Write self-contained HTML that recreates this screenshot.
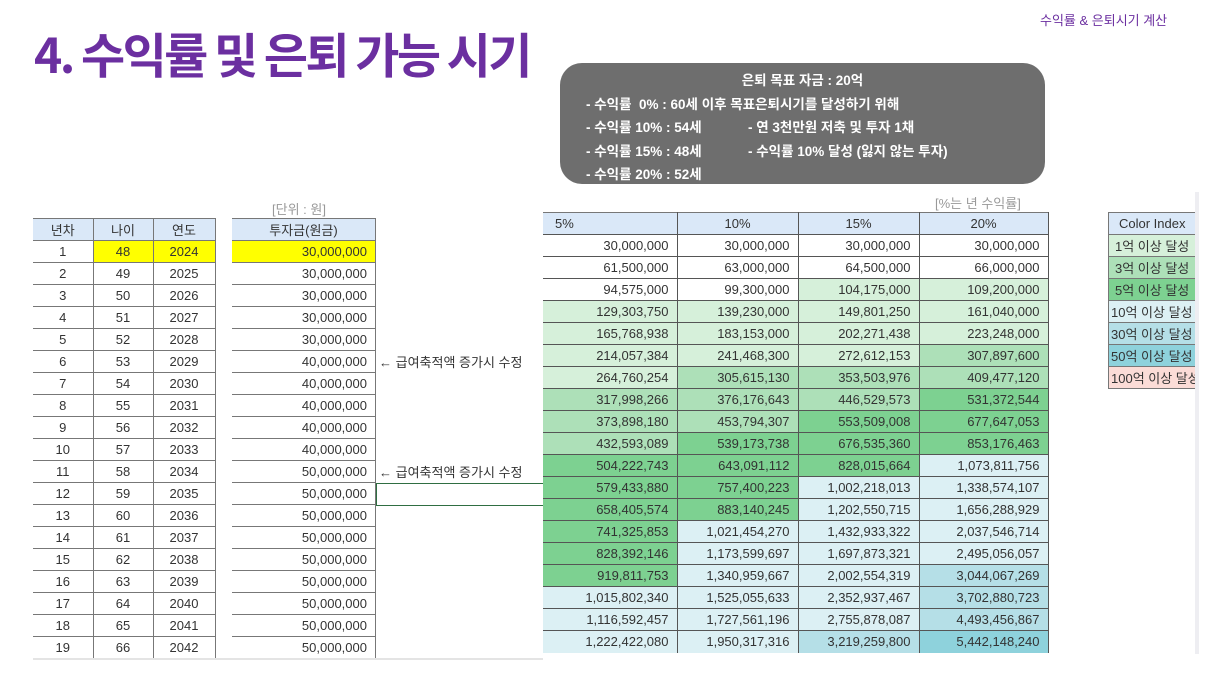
<!DOCTYPE html>
<html><head><meta charset="utf-8"><style>
*{margin:0;padding:0;box-sizing:border-box}
body{width:1216px;height:684px;background:#fff;position:relative;overflow:hidden;font-family:"Liberation Sans","Noto Sans CJK KR",sans-serif;color:#333}
.abs{position:absolute}
table{border-collapse:collapse;table-layout:fixed;font-size:13px}
td{height:22px;border-bottom:1px solid #777;padding:0 8px;white-space:nowrap;overflow:hidden}
.l td{text-align:center;border-right:1px solid #777}
.h td{background:#dae8f8;border-top:1px solid #777}
.r td{text-align:right;border-right:1px solid #555;border-bottom:1px solid #555}
.y{background:#ffff00}
.g1{background:#d6f0da}.g2{background:#ade0b8}.g3{background:#7dd191}
.b1{background:#dcf0f4}.b2{background:#b5dfe7}.b3{background:#8ed2dc}.p{background:#fbdcd7}
.box{left:560px;top:63px;width:485px;height:121px;background:#6e6e6e;border-radius:22px;color:#fff;font-size:13.5px;font-weight:500}
.box div{position:absolute;white-space:nowrap;font-weight:bold}
</style></head><body>
<div class="abs" style="left:34px;top:17px;font-size:48px;font-weight:bold;color:#6b2fa0;letter-spacing:-2.6px;font-family:'Noto Sans CJK KR',sans-serif">4. 수익률 및 은퇴 가능 시기</div>
<div class="abs" style="left:1040px;top:10px;font-size:13px;color:#6b2fa0">수익률 &amp; 은퇴시기 계산</div>
<div class="abs box">
<div style="left:0;width:485px;text-align:center;top:6px">은퇴 목표 자금 : 20억</div>
<div style="left:26px;top:30px">- 수익률 &nbsp;0% : 60세 이후 목표은퇴시기를 달성하기 위해</div>
<div style="left:26px;top:53px">- 수익률 10% : 54세</div>
<div style="left:188px;top:53px">- 연 3천만원 저축 및 투자 1채</div>
<div style="left:26px;top:77px">- 수익률 15% : 48세</div>
<div style="left:188px;top:77px">- 수익률 10% 달성 (잃지 않는 투자)</div>
<div style="left:26px;top:100px">- 수익률 20% : 52세</div>
</div>
<div class="abs" style="left:272px;top:199px;font-size:13px;color:#999">[단위 : 원]</div>
<div class="abs" style="left:935px;top:193px;font-size:13px;color:#999">[%는 년 수익률]</div>

<table class="abs l" style="left:33px;top:218px;width:182px">
<colgroup><col style="width:60px"><col style="width:60px"><col style="width:62px"></colgroup>
<tr class="h"><td>년차</td><td>나이</td><td>연도</td></tr>
<tr><td>1</td><td class="y">48</td><td class="y">2024</td></tr>
<tr><td>2</td><td>49</td><td>2025</td></tr>
<tr><td>3</td><td>50</td><td>2026</td></tr>
<tr><td>4</td><td>51</td><td>2027</td></tr>
<tr><td>5</td><td>52</td><td>2028</td></tr>
<tr><td>6</td><td>53</td><td>2029</td></tr>
<tr><td>7</td><td>54</td><td>2030</td></tr>
<tr><td>8</td><td>55</td><td>2031</td></tr>
<tr><td>9</td><td>56</td><td>2032</td></tr>
<tr><td>10</td><td>57</td><td>2033</td></tr>
<tr><td>11</td><td>58</td><td>2034</td></tr>
<tr><td>12</td><td>59</td><td>2035</td></tr>
<tr><td>13</td><td>60</td><td>2036</td></tr>
<tr><td>14</td><td>61</td><td>2037</td></tr>
<tr><td>15</td><td>62</td><td>2038</td></tr>
<tr><td>16</td><td>63</td><td>2039</td></tr>
<tr><td>17</td><td>64</td><td>2040</td></tr>
<tr><td>18</td><td>65</td><td>2041</td></tr>
<tr><td>19</td><td>66</td><td>2042</td></tr>
</table>

<table class="abs l" style="left:232px;top:218px;width:144px">
<tr class="h"><td>투자금(원금)</td></tr>
<tr><td class="y" style="text-align:right">30,000,000</td></tr>
<tr><td style="text-align:right">30,000,000</td></tr>
<tr><td style="text-align:right">30,000,000</td></tr>
<tr><td style="text-align:right">30,000,000</td></tr>
<tr><td style="text-align:right">30,000,000</td></tr>
<tr><td style="text-align:right">40,000,000</td></tr>
<tr><td style="text-align:right">40,000,000</td></tr>
<tr><td style="text-align:right">40,000,000</td></tr>
<tr><td style="text-align:right">40,000,000</td></tr>
<tr><td style="text-align:right">40,000,000</td></tr>
<tr><td style="text-align:right">50,000,000</td></tr>
<tr><td style="text-align:right">50,000,000</td></tr>
<tr><td style="text-align:right">50,000,000</td></tr>
<tr><td style="text-align:right">50,000,000</td></tr>
<tr><td style="text-align:right">50,000,000</td></tr>
<tr><td style="text-align:right">50,000,000</td></tr>
<tr><td style="text-align:right">50,000,000</td></tr>
<tr><td style="text-align:right">50,000,000</td></tr>
<tr><td style="text-align:right">50,000,000</td></tr>
</table>
<div class="abs" style="left:379px;top:352px;font-size:13px">← 급여축적액 증가시 수정</div>
<div class="abs" style="left:379px;top:462px;font-size:13px">← 급여축적액 증가시 수정</div>
<div class="abs" style="left:376px;top:483px;width:167px;height:23px;border:1px solid #2f6e42;border-right:none"></div>
<div class="abs" style="left:33px;top:658px;width:510px;height:2px;background:#e4e4e4"></div>

<table class="abs r" style="left:543px;top:212px;width:505px">
<colgroup><col style="width:134px"><col style="width:121px"><col style="width:121px"><col style="width:129px"></colgroup>
<tr class="h"><td style="text-align:left;padding-left:12px">5%</td><td style="text-align:center">10%</td><td style="text-align:center">15%</td><td style="text-align:center">20%</td></tr>
<tr><td>30,000,000</td><td>30,000,000</td><td>30,000,000</td><td>30,000,000</td></tr>
<tr><td>61,500,000</td><td>63,000,000</td><td>64,500,000</td><td>66,000,000</td></tr>
<tr><td>94,575,000</td><td>99,300,000</td><td class="g1">104,175,000</td><td class="g1">109,200,000</td></tr>
<tr><td class="g1">129,303,750</td><td class="g1">139,230,000</td><td class="g1">149,801,250</td><td class="g1">161,040,000</td></tr>
<tr><td class="g1">165,768,938</td><td class="g1">183,153,000</td><td class="g1">202,271,438</td><td class="g1">223,248,000</td></tr>
<tr><td class="g1">214,057,384</td><td class="g1">241,468,300</td><td class="g1">272,612,153</td><td class="g2">307,897,600</td></tr>
<tr><td class="g1">264,760,254</td><td class="g2">305,615,130</td><td class="g2">353,503,976</td><td class="g2">409,477,120</td></tr>
<tr><td class="g2">317,998,266</td><td class="g2">376,176,643</td><td class="g2">446,529,573</td><td class="g3">531,372,544</td></tr>
<tr><td class="g2">373,898,180</td><td class="g2">453,794,307</td><td class="g3">553,509,008</td><td class="g3">677,647,053</td></tr>
<tr><td class="g2">432,593,089</td><td class="g3">539,173,738</td><td class="g3">676,535,360</td><td class="g3">853,176,463</td></tr>
<tr><td class="g3">504,222,743</td><td class="g3">643,091,112</td><td class="g3">828,015,664</td><td class="b1">1,073,811,756</td></tr>
<tr><td class="g3">579,433,880</td><td class="g3">757,400,223</td><td class="b1">1,002,218,013</td><td class="b1">1,338,574,107</td></tr>
<tr><td class="g3">658,405,574</td><td class="g3">883,140,245</td><td class="b1">1,202,550,715</td><td class="b1">1,656,288,929</td></tr>
<tr><td class="g3">741,325,853</td><td class="b1">1,021,454,270</td><td class="b1">1,432,933,322</td><td class="b1">2,037,546,714</td></tr>
<tr><td class="g3">828,392,146</td><td class="b1">1,173,599,697</td><td class="b1">1,697,873,321</td><td class="b1">2,495,056,057</td></tr>
<tr><td class="g3">919,811,753</td><td class="b1">1,340,959,667</td><td class="b1">2,002,554,319</td><td class="b2">3,044,067,269</td></tr>
<tr><td class="b1">1,015,802,340</td><td class="b1">1,525,055,633</td><td class="b1">2,352,937,467</td><td class="b2">3,702,880,723</td></tr>
<tr><td class="b1">1,116,592,457</td><td class="b1">1,727,561,196</td><td class="b1">2,755,878,087</td><td class="b2">4,493,456,867</td></tr>
<tr><td class="b1" style="border-bottom:none">1,222,422,080</td><td class="b1" style="border-bottom:none">1,950,317,316</td><td class="b2" style="border-bottom:none">3,219,259,800</td><td class="b3" style="border-bottom:none">5,442,148,240</td></tr>
</table>

<div class="abs" style="left:1108px;top:212px;width:87px;height:180px;overflow:hidden">
<table class="l" style="width:120px;border-left:1px solid #777">
<tr class="h"><td style="text-align:left;padding-left:10px">Color Index</td></tr>
<tr><td class="g1" style="text-align:left;padding-left:6px">1억 이상 달성</td></tr>
<tr><td class="g2" style="text-align:left;padding-left:6px">3억 이상 달성</td></tr>
<tr><td class="g3" style="text-align:left;padding-left:6px">5억 이상 달성</td></tr>
<tr><td class="b1" style="text-align:left;padding-left:2px">10억 이상 달성</td></tr>
<tr><td class="b2" style="text-align:left;padding-left:2px">30억 이상 달성</td></tr>
<tr><td class="b3" style="text-align:left;padding-left:2px">50억 이상 달성</td></tr>
<tr><td class="p" style="text-align:left;padding-left:2px">100억 이상 달성</td></tr>
</table></div>
<div class="abs" style="left:1195px;top:192px;width:4px;height:462px;background:#eeeef2"></div>
</body></html>
